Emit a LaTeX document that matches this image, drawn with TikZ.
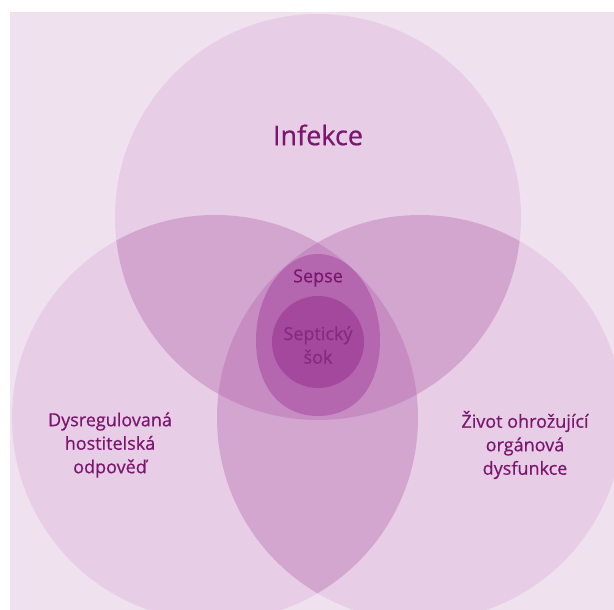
\documentclass[tikz,border=0pt]{standalone}
\usepackage{fontspec}
\setmainfont{Open Sans}
\newfontfamily\lblfont{Open Sans}[FakeBold=0.6]
\usetikzlibrary{positioning}
\definecolor{bgpink}{HTML}{F0E1EE}
\definecolor{onefill}{HTML}{E7CDE5}
\definecolor{twofill}{HTML}{D3A6CF}
\definecolor{threefill}{HTML}{C78DC2}
\definecolor{sepsefill}{HTML}{B467AE}
\definecolor{sokfill}{HTML}{A4489E}
\definecolor{dpurple}{HTML}{7B166F}
\definecolor{sokpurple}{HTML}{862A80}

\begin{document}
\begin{tikzpicture}[x=1pt,y=-1pt,every node/.style={text=dpurple,align=center,font=\lblfont\fontsize{18}{23.5}\selectfont}]

\useasboundingbox (0,0) rectangle (614,610);
\fill[white] (0,0) rectangle (614,610);
\fill[bgpink] (10,12) rectangle (614,610);

\def\rad{203}
\coordinate (infC) at (318,217);
\coordinate (dysC) at (215,418);
\coordinate (orgC) at (420,418);

\begin{scope}
\clip (10,12) rectangle (614,610);

% the three big circles
\foreach \c in {infC,dysC,orgC}
\fill[onefill] (\c) circle [radius=\rad];

% pairwise overlaps
\foreach \a/\b in {infC/dysC,infC/orgC,dysC/orgC}
{
\begin{scope}
\clip (\a) circle [radius=\rad];
\fill[twofill] (\b) circle [radius=\rad];
\end{scope}
}

% all three
\begin{scope}
\clip (infC) circle [radius=\rad];
\clip (dysC) circle [radius=\rad];
\fill[threefill] (orgC) circle [radius=\rad];
\end{scope}
\end{scope}

% sepse egg and septic shock
\fill[sepsefill] (318,254) .. controls (352,254) and (380,294) .. (380,340)
  .. controls (380,388) and (354,416) .. (318,416)
  .. controls (282,416) and (256,388) .. (256,340)
  .. controls (256,294) and (284,254) .. (318,254) -- cycle;
\fill[sokfill] (318,342) circle [radius=46];

\node (infekce) at (318,135) {\fontsize{27}{32}\selectfont Infekce};
\node (sepse) at (318,278) {Sepse};
\node[text=sokpurple] (sok) at (318,345) {Septický\\šok};
\node (dysreg) at (110,445) {Dysregulovaná\\hostitelská\\odpověď};
\node (zivot) at (525,445) {Život ohrožující\\orgánová\\dysfunkce};

\end{tikzpicture}
\end{document}
